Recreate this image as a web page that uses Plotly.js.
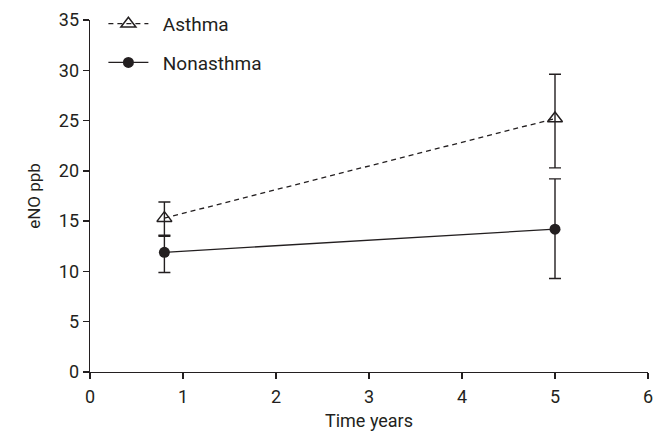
<!DOCTYPE html>
<html>
<head>
<meta charset="utf-8">
<script src="https://cdn.plot.ly/plotly-3.0.1.min.js"></script>
<style>html,body{margin:0;padding:0;background:#fff;}#chart{width:655px;height:431px;}</style>
</head>
<body>
<div id="chart"></div>
<script>
var timeYears = [0.8, 5];
var asthmaMean = [15.3, 25.2];
var asthmaUpper = [1.6, 4.4];
var asthmaLower = [1.8, 4.9];
var nonasthmaMean = [11.9, 14.2];
var nonasthmaUpper = [1.7, 5.0];
var nonasthmaLower = [2.0, 4.9];
var xTicks = [0, 1, 2, 3, 4, 5, 6];
var yTicks = [0, 5, 10, 15, 20, 25, 30, 35];
var seriesNames = ['Asthma', 'Nonasthma'];

var ink = '#231f20';
var fontFam = 'Roboto, "DejaVu Sans", sans-serif';
var pad = '\u00a0\u00a0';

var traces = [
  {
    x: timeYears, y: asthmaMean, name: pad + seriesNames[0], type: 'scatter', mode: 'lines+markers',
    legendgroup: 'a',
    line: {color: ink, width: 1.3, dash: '5px,4px'},
    marker: {symbol: 'triangle-up-open', size: 13, color: ink, line: {color: ink, width: 1.5}},
    error_y: {type: 'data', symmetric: false, array: asthmaUpper, arrayminus: asthmaLower,
      color: ink, thickness: 1.4, width: 6}
  },
  {
    x: timeYears, y: nonasthmaMean, name: pad + seriesNames[1], type: 'scatter', mode: 'lines+markers',
    legendgroup: 'b',
    line: {color: ink, width: 1.3},
    marker: {symbol: 'circle', size: 11, color: ink},
    error_y: {type: 'data', symmetric: false, array: nonasthmaUpper, arrayminus: nonasthmaLower,
      color: ink, thickness: 1.4, width: 6}
  }
];

var layout = {
  width: 655, height: 431,
  margin: {l: 90, r: 7, t: 20, b: 59, autoexpand: false},
  paper_bgcolor: '#fff', plot_bgcolor: '#fff',
  font: {family: fontFam, color: ink, size: 17},
  showlegend: true,
  legend: {x: 0.024, y: 1.043, xanchor: 'left', yanchor: 'top', bgcolor: 'rgba(0,0,0,0)',
    font: {size: 19, color: ink}, itemwidth: 40, tracegroupgap: 11},
  xaxis: {
    range: [0, 6], tickvals: xTicks, ticktext: xTicks.map(String),
    showgrid: false, zeroline: false, showline: true, linecolor: ink, linewidth: 1.3,
    ticks: 'outside', ticklen: 6, tickwidth: 1.3, tickcolor: ink,
    tickfont: {size: 18, color: ink}, ticklabelstandoff: 2,
    title: {text: 'Time years', font: {size: 18, color: ink}, standoff: 9}
  },
  yaxis: {
    range: [0, 35], tickvals: yTicks, ticktext: yTicks.map(String),
    showgrid: false, zeroline: false, showline: true, linecolor: ink, linewidth: 1.3,
    ticks: 'outside', ticklen: 6, tickwidth: 1.3, tickcolor: ink,
    tickfont: {size: 18, color: ink},
    title: {text: 'eNO ppb', font: {size: 17, color: ink}, standoff: 14}
  }
};

Plotly.newPlot('chart', traces, layout, {displayModeBar: false, staticPlot: true});
</script>
</body>
</html>
